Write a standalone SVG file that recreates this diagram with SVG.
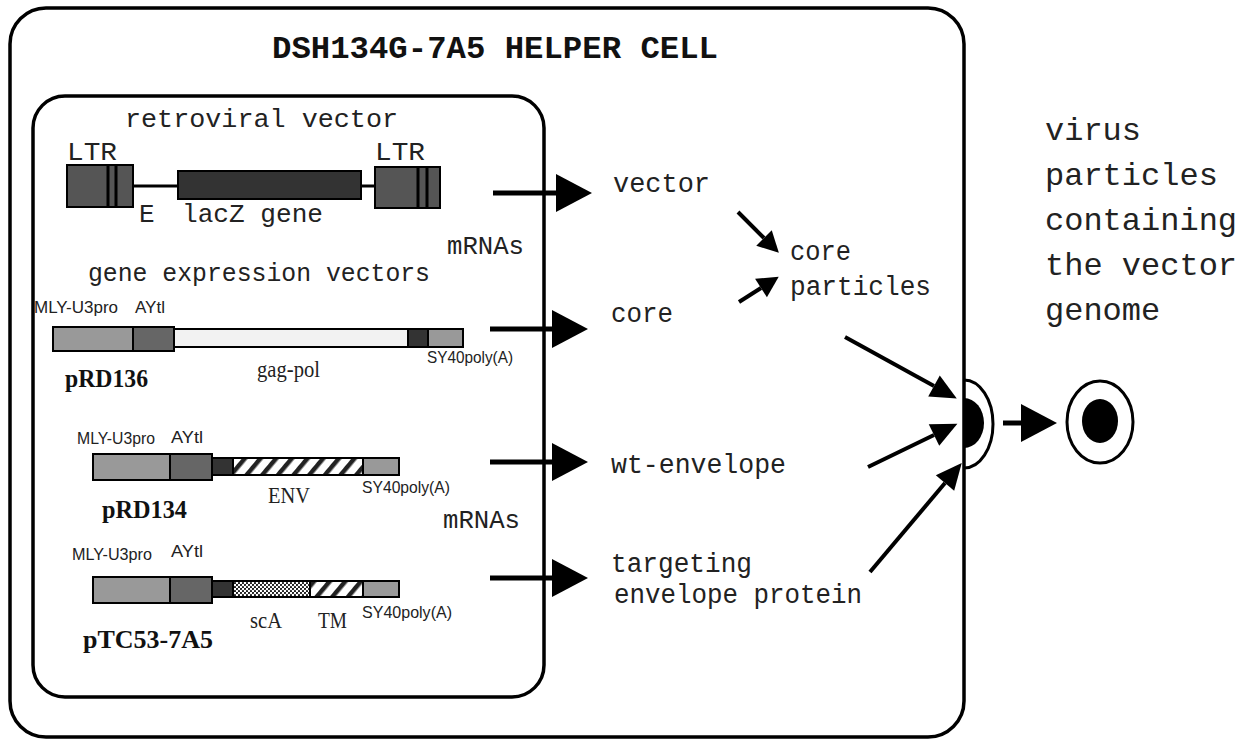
<svg xmlns="http://www.w3.org/2000/svg" width="1250" height="740" viewBox="0 0 1250 740">
<style>
.mono{font-family:"Liberation Mono","Courier New",monospace;fill:#222}
.title{font-family:"Liberation Mono","Courier New",monospace;font-weight:bold;font-size:32px;fill:#111}
.lbl{font-family:"Liberation Sans",Arial,sans-serif;font-size:17px;fill:#222}
.ser{font-family:"Liberation Serif","Times New Roman",serif;font-size:23px;fill:#222}
.bold{font-family:"Liberation Serif","Times New Roman",serif;font-weight:bold;font-size:26px;fill:#111}
.box{fill:none;stroke:#000;stroke-width:3.5}
.seg{stroke:#000;stroke-width:2}
.thick{stroke:#000;stroke-width:5;fill:none}
.diag{stroke:#000;stroke-width:4;fill:none}
</style>
<defs>
<marker id="bigHead" markerUnits="userSpaceOnUse" markerWidth="40" markerHeight="40" refX="0" refY="19" orient="auto" overflow="visible">
<path d="M0,0 L36,19 L0,38 Z" fill="#000"/>
</marker>
<marker id="medHead" markerUnits="userSpaceOnUse" markerWidth="28" markerHeight="26" refX="0" refY="12" orient="auto" overflow="visible">
<path d="M0,0 L26,12 L0,24 Z" fill="#000"/>
</marker>
<marker id="smallHead" markerUnits="userSpaceOnUse" markerWidth="22" markerHeight="24" refX="0" refY="11" orient="auto" overflow="visible">
<path d="M0,0 L21,11 L0,22 Z" fill="#000"/>
</marker>
<pattern id="hatch" patternUnits="userSpaceOnUse" width="12" height="10" patternTransform="rotate(40)">
<rect width="12" height="10" fill="#fff"/>
<rect width="4.5" height="10" fill="#222"/>
</pattern>
<pattern id="dots" patternUnits="userSpaceOnUse" width="4" height="4">
<rect width="4" height="4" fill="#fff"/>
<circle cx="1" cy="1" r="1.1" fill="#111"/>
<circle cx="3" cy="3" r="1.1" fill="#111"/>
</pattern>
</defs>

<g id="helper-cell">
<rect class="box" x="10" y="8" width="954" height="729" rx="36"/>
<text class="title" x="495" y="58" text-anchor="middle" textLength="446" lengthAdjust="spacingAndGlyphs">DSH134G-7A5 HELPER CELL</text>
</g>

<g id="plasmid-box">
<rect class="box" x="33" y="96" width="511" height="601" rx="32"/>
</g>

<g id="retroviral-vector">
<text class="mono" x="125" y="127" font-size="26" textLength="273" lengthAdjust="spacingAndGlyphs">retroviral vector</text>
<text class="mono" x="67" y="160" font-size="26" textLength="50" lengthAdjust="spacingAndGlyphs">LTR</text>
<text class="mono" x="375" y="160" font-size="26" textLength="50" lengthAdjust="spacingAndGlyphs">LTR</text>
<line x1="133" y1="186" x2="375" y2="186" stroke="#000" stroke-width="3"/>
<rect class="seg" x="67" y="165" width="66" height="42" fill="#555"/>
<line x1="108" y1="165" x2="108" y2="207" stroke="#000" stroke-width="3"/>
<line x1="116" y1="165" x2="116" y2="207" stroke="#000" stroke-width="3"/>
<rect class="seg" x="178" y="171" width="183" height="28" fill="#333"/>
<rect class="seg" x="375" y="167" width="65" height="41" fill="#555"/>
<line x1="418" y1="167" x2="418" y2="208" stroke="#000" stroke-width="3"/>
<line x1="427" y1="167" x2="427" y2="208" stroke="#000" stroke-width="3"/>
<text class="mono" x="139" y="222" font-size="26">E</text>
<text class="mono" x="182" y="222" font-size="26" textLength="141" lengthAdjust="spacingAndGlyphs">lacZ gene</text>
<text class="mono" x="447" y="254" font-size="26" textLength="77" lengthAdjust="spacingAndGlyphs">mRNAs</text>
</g>

<g id="pRD136">
<text class="mono" x="88" y="281" font-size="25" textLength="342" lengthAdjust="spacingAndGlyphs">gene expression vectors</text>
<text class="lbl" x="34" y="313" textLength="84" lengthAdjust="spacingAndGlyphs">MLY-U3pro</text>
<text class="lbl" x="135" y="313" textLength="30" lengthAdjust="spacingAndGlyphs">AYtl</text>
<rect class="seg" x="174" y="329" width="234" height="18" fill="#f2f2f2"/>
<rect class="seg" x="408" y="329" width="20" height="18" fill="#333"/>
<rect class="seg" x="428" y="329" width="35" height="18" fill="#999"/>
<rect class="seg" x="53" y="327" width="80" height="24" fill="#999"/>
<rect class="seg" x="133" y="327" width="41" height="24" fill="#666"/>
<text class="lbl" x="427" y="363" textLength="86" lengthAdjust="spacingAndGlyphs">SY40poly(A)</text>
<text class="ser" x="257" y="377" textLength="63" lengthAdjust="spacingAndGlyphs">gag-pol</text>
<text class="bold" x="65" y="387" textLength="83" lengthAdjust="spacingAndGlyphs">pRD136</text>
</g>

<g id="pRD134">
<text class="lbl" x="77" y="444" textLength="78" lengthAdjust="spacingAndGlyphs">MLY-U3pro</text>
<text class="lbl" x="171" y="443" textLength="32" lengthAdjust="spacingAndGlyphs">AYtl</text>
<rect class="seg" x="212" y="458" width="21" height="17" fill="#333"/>
<rect class="seg" x="233" y="458" width="130" height="17" fill="url(#hatch)"/>
<rect class="seg" x="363" y="458" width="36" height="17" fill="#999"/>
<rect class="seg" x="93" y="454" width="77" height="26" fill="#999"/>
<rect class="seg" x="170" y="454" width="42" height="26" fill="#666"/>
<text class="lbl" x="362" y="493" textLength="88" lengthAdjust="spacingAndGlyphs">SY40poly(A)</text>
<text class="ser" x="268" y="503" textLength="42" lengthAdjust="spacingAndGlyphs">ENV</text>
<text class="bold" x="102" y="518" textLength="85" lengthAdjust="spacingAndGlyphs">pRD134</text>
<text class="mono" x="443" y="528" font-size="26" textLength="77" lengthAdjust="spacingAndGlyphs">mRNAs</text>
</g>

<g id="pTC53-7A5">
<text class="lbl" x="72" y="560" textLength="80" lengthAdjust="spacingAndGlyphs">MLY-U3pro</text>
<text class="lbl" x="171" y="557" textLength="32" lengthAdjust="spacingAndGlyphs">AYtl</text>
<rect class="seg" x="212" y="581" width="21" height="16" fill="#333"/>
<rect class="seg" x="233" y="581" width="77" height="16" fill="url(#dots)"/>
<rect class="seg" x="310" y="581" width="53" height="16" fill="url(#hatch)"/>
<rect class="seg" x="363" y="581" width="36" height="16" fill="#999"/>
<rect class="seg" x="93" y="577" width="77" height="26" fill="#999"/>
<rect class="seg" x="170" y="577" width="42" height="26" fill="#666"/>
<text class="lbl" x="362" y="618" textLength="90" lengthAdjust="spacingAndGlyphs">SY40poly(A)</text>
<text class="ser" x="250" y="628" textLength="32" lengthAdjust="spacingAndGlyphs">scA</text>
<text class="ser" x="318" y="628" textLength="29" lengthAdjust="spacingAndGlyphs">TM</text>
<text class="bold" x="83" y="648" textLength="130" lengthAdjust="spacingAndGlyphs">pTC53-7A5</text>
</g>

<g id="products">
<text class="mono" x="613" y="192" font-size="27" textLength="97" lengthAdjust="spacingAndGlyphs">vector</text>
<text class="mono" x="611" y="322" font-size="27" textLength="62" lengthAdjust="spacingAndGlyphs">core</text>
<text class="mono" x="611" y="473" font-size="27" textLength="175" lengthAdjust="spacingAndGlyphs">wt-envelope</text>
<text class="mono" x="611" y="572" font-size="27" textLength="141" lengthAdjust="spacingAndGlyphs">targeting</text>
<text class="mono" x="614" y="603" font-size="27" textLength="248" lengthAdjust="spacingAndGlyphs">envelope protein</text>
</g>

<g id="core-particles">
<text class="mono" x="790" y="260" font-size="27" textLength="61" lengthAdjust="spacingAndGlyphs">core</text>
<text class="mono" x="790" y="295" font-size="27" textLength="141" lengthAdjust="spacingAndGlyphs">particles</text>
</g>

<g id="budding-particle">
<path d="M964,380 A29,44 0 0 1 964,468" fill="none" stroke="#000" stroke-width="3"/>
<path d="M964,398 A20,25 0 0 1 964,448 Z" fill="#000"/>
</g>

<g id="virus-particle">
<ellipse cx="1100" cy="422" rx="33" ry="41" fill="none" stroke="#000" stroke-width="3"/>
<ellipse cx="1100" cy="421" rx="18" ry="22" fill="#000"/>
</g>

<g id="virus-label">
<text class="mono" font-size="32">
<tspan x="1045" y="140">virus</tspan>
<tspan x="1045" y="185">particles</tspan>
<tspan x="1045" y="230">containing</tspan>
<tspan x="1045" y="275">the vector</tspan>
<tspan x="1045" y="320">genome</tspan>
</text>
</g>

<g id="connectors">
<line class="thick" x1="493" y1="193" x2="556" y2="193" marker-end="url(#bigHead)"/>
<line class="thick" x1="490" y1="329" x2="552" y2="329" marker-end="url(#bigHead)"/>
<line class="thick" x1="490" y1="462" x2="552" y2="462" marker-end="url(#bigHead)"/>
<line class="thick" x1="490" y1="578" x2="552" y2="578" marker-end="url(#bigHead)"/>
<line class="diag" x1="738" y1="212" x2="764" y2="238" marker-end="url(#smallHead)"/>
<line class="diag" x1="739" y1="302" x2="761" y2="288" marker-end="url(#smallHead)"/>
<line class="diag" x1="845" y1="337" x2="934" y2="386" marker-end="url(#medHead)"/>
<line class="diag" x1="868" y1="467" x2="934" y2="435" marker-end="url(#medHead)"/>
<line class="diag" x1="870" y1="572" x2="945" y2="483" marker-end="url(#medHead)"/>
<line class="thick" x1="1003" y1="423" x2="1021" y2="423" marker-end="url(#bigHead)"/>
</g>
</svg>
